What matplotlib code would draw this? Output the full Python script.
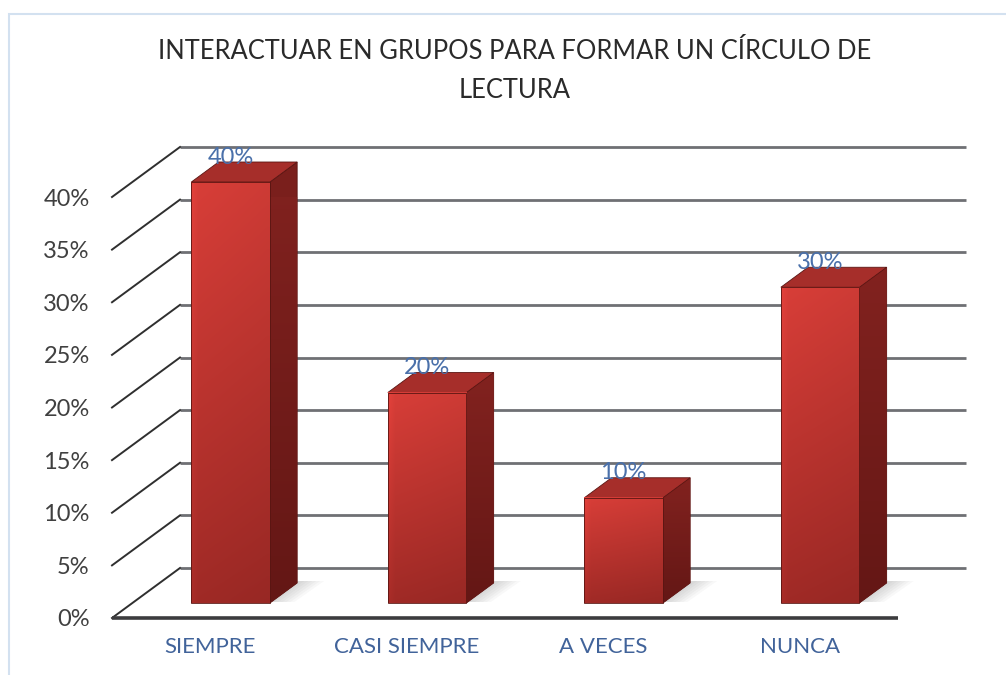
import numpy as np
import matplotlib
matplotlib.use('Agg')
import matplotlib.pyplot as plt
from matplotlib.transforms import Affine2D, IdentityTransform
from matplotlib.patches import Polygon, Rectangle

# ---------------- data ----------------
categories = ['SIEMPRE', 'CASI SIEMPRE', 'A VECES', 'NUNCA']
values = [40, 20, 10, 30]
value_labels = ['40%', '20%', '10%', '30%']
y_ticks = [0, 5, 10, 15, 20, 25, 30, 35, 40]
y_tick_labels = ['0%', '5%', '10%', '15%', '20%', '25%', '30%', '35%', '40%']
title_text = 'INTERACTUAR EN GRUPOS PARA FORMAR UN CÍRCULO DE\nLECTURA'

plt.rcParams['font.family'] = ['Lato', 'DejaVu Sans']

W, H, DPI = 1006, 675, 100
fig = plt.figure(figsize=(W / DPI, H / DPI), dpi=DPI)
fig.patch.set_facecolor('white')

# chart border (light blue)
fig.patches.append(Rectangle((9 / W, -0.05), 1.2, 1 - 14 / H + 0.05, transform=fig.transFigure,
                             fill=False, edgecolor='#d3e1f0', lw=1.5))

ax = fig.add_axes([112 / W, 57 / H, 786 / W, 421 / H])
ax.set_facecolor('none')
for s in ax.spines.values():
    s.set_visible(False)

SLANT = 1.36      # horizontal px shift per vertical px of depth
WALL_T = 50       # depth of back wall (px)
BAR_T0, BAR_T1 = 15, 35
BAR_W = 0.40
n = len(categories)
xmin, xmax = -0.5, n - 0.5
ax.set_xlim(xmin, xmax)
ax.set_ylim(0, max(y_ticks))


def depth(t):
    return ax.transData + Affine2D().translate(SLANT * t, t)


def P(x, y, t):
    d = ax.transData.transform((x, y))
    return (d[0] + SLANT * t, d[1] + t)


ident = IdentityTransform()

# back wall gridlines
for v in y_ticks:
    ax.plot([xmin, xmax], [v, v], transform=depth(WALL_T), color='#6f7074', lw=2.0,
            clip_on=False, zorder=1, solid_capstyle='butt')
# left diagonal lines
for v in y_ticks:
    a = P(xmin, v, 0)
    b = P(xmin, v, WALL_T)
    ax.plot([a[0], b[0]], [a[1], b[1]], transform=ident, color='#2f2f2f', lw=1.4,
            clip_on=False, zorder=1)
# front floor edge
ax.plot([xmin, xmax], [0, 0], color='#3c3c3e', lw=2.6, clip_on=False, zorder=1,
        solid_capstyle='butt')

# gradients
ny, nx = 64, 16
yy = np.linspace(0, 1, ny)[:, None]
xx = np.linspace(0, 1, nx)[None, :]
top_c = np.array([216, 62, 56]) / 255
bot_c = np.array([160, 42, 38]) / 255
front_grad = top_c * (1 - yy[..., None]) + bot_c * yy[..., None]
hfac = 1.0 - 0.05 * xx[..., None]
hfac = np.where(xx[..., None] < 0.06, 1.04, hfac)
front_grad = np.clip(front_grad * hfac, 0, 1)

side_top = np.array([130, 34, 31]) / 255
side_bot = np.array([100, 23, 21]) / 255
side_grad = side_top * (1 - yy[..., None]) + side_bot * yy[..., None]
side_grad = np.repeat(side_grad, 4, axis=1)

for i, v in enumerate(values):
    x0, x1 = i - BAR_W / 2, i + BAR_W / 2
    # soft shadow on floor, mostly right of the base
    for k in range(6):
        e = 3 + 4 * k
        a = P(x1, 0, BAR_T0 + 1)
        b = P(x1, 0, BAR_T1)
        sh = Polygon([P(x1 - 0.05, 0, BAR_T0 + 1), (a[0] + e, a[1]),
                      (b[0] + e + 4, b[1] + 2), P(x1 - 0.05, 0, BAR_T1 + 2)],
                     closed=True, transform=ident, facecolor='#606060', alpha=0.045,
                     edgecolor='none', zorder=2, clip_on=False)
        ax.add_patch(sh)
    # side face
    side = Polygon([P(x1, 0, BAR_T0), P(x1, v, BAR_T0), P(x1, v, BAR_T1), P(x1, 0, BAR_T1)],
                   closed=True, transform=ident, facecolor='#7a1f1c', edgecolor='#5a1512',
                   lw=0.6, zorder=3, clip_on=False)
    ax.add_patch(side)
    pts = np.array(side.get_xy())
    im = ax.imshow(side_grad, extent=(pts[:, 0].min(), pts[:, 0].max(), pts[:, 1].min(), pts[:, 1].max()),
                   transform=ident, aspect='auto', interpolation='bilinear', zorder=3.1)
    im.set_clip_path(side)
    # top face
    top = Polygon([P(x0, v, BAR_T0), P(x1, v, BAR_T0), P(x1, v, BAR_T1), P(x0, v, BAR_T1)],
                  closed=True, transform=ident, facecolor='#a62e2a', edgecolor='#5a1512',
                  lw=0.6, zorder=3.2, clip_on=False)
    ax.add_patch(top)
    # front face
    ax.imshow(front_grad, extent=(x0, x1, 0, v), transform=depth(BAR_T0), aspect='auto',
              interpolation='bilinear', zorder=3.3, clip_on=False)
    ax.add_patch(Rectangle((x0, 0), BAR_W, v, transform=depth(BAR_T0), fill=False,
                           edgecolor='#5a1512', lw=0.6, zorder=3.4, clip_on=False))
    # data label
    ax.annotate(value_labels[i], xy=(i, v), xycoords=depth(BAR_T0), xytext=(0, 18),
                textcoords='offset points', ha='center', va='center', fontsize=17,
                color='#4a70aa', zorder=5)

ax.set_xlim(xmin, xmax)
ax.set_ylim(0, max(y_ticks))
ax.set_aspect('auto')

ax.set_yticks(y_ticks, y_tick_labels)
ax.set_xticks(range(n), categories)
ax.tick_params(axis='y', length=0, pad=16, labelsize=17, labelcolor='#404040')
ax.tick_params(axis='x', length=0, pad=14, labelsize=16, labelcolor='#41639a')

# title, fitted to reference width
t = fig.text(515 / W, 1 - 71 / H, title_text, ha='center', va='center', fontsize=21,
             fontweight='normal', color='#2a2a2a', linespacing=1.68)
fig.canvas.draw()
w = t.get_window_extent().width
t.set_fontsize(21 * 710 / w)

fig.savefig('out.png', dpi=DPI, facecolor='white')
